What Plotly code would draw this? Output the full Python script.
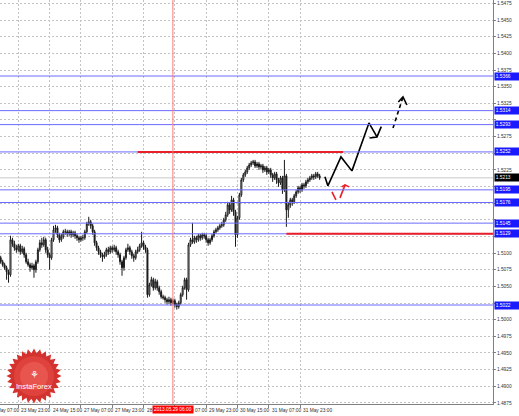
import math
import plotly.graph_objects as go

# ---------------- data (H1 bars) ----------------
bar_index = list(range(7, 171))  # hourly bars, 0 = 23 May 07:00

open_ = [
    1.50930, 1.50870, 1.50825, 1.50780, 1.50720, 1.50675, 1.51200, 1.51140, 1.51080, 1.51050,
    1.51110, 1.51020, 1.51065, 1.50975, 1.50870, 1.50825, 1.50780, 1.50810, 1.50750, 1.50870,
    1.51050, 1.51155, 1.51125, 1.51200, 1.51050, 1.50975, 1.50930, 1.51200, 1.51350, 1.51380,
    1.51275, 1.51200, 1.51245, 1.51320, 1.51320, 1.51290, 1.51320, 1.51275, 1.51305, 1.51260,
    1.51230, 1.51200, 1.51230, 1.51230, 1.51320, 1.51440, 1.51470, 1.51410, 1.51320, 1.51155,
    1.51080, 1.51020, 1.50975, 1.50945, 1.50975, 1.51050, 1.51020, 1.51080, 1.51050, 1.51080,
    1.51020, 1.50975, 1.50870, 1.50780, 1.50930, 1.51050, 1.51080, 1.51020, 1.50960, 1.50930,
    1.51020, 1.51050, 1.51110, 1.51155, 1.51095, 1.51050, 1.50375, 1.50525, 1.50600, 1.50480,
    1.50570, 1.50480, 1.50420, 1.50345, 1.50330, 1.50300, 1.50270, 1.50300, 1.50255, 1.50285,
    1.50225, 1.50195, 1.50255, 1.50375, 1.50480, 1.50600, 1.50450, 1.51125, 1.51200, 1.51170,
    1.51230, 1.51200, 1.51260, 1.51230, 1.51275, 1.51260, 1.51200, 1.51155, 1.51200, 1.51260,
    1.51320, 1.51350, 1.51380, 1.51410, 1.51425, 1.51500, 1.51575, 1.51725, 1.51650, 1.51800,
    1.51620, 1.51275, 1.51530, 1.51875, 1.52100, 1.52175, 1.52220, 1.52280, 1.52325, 1.52355,
    1.52370, 1.52310, 1.52340, 1.52295, 1.52310, 1.52250, 1.52280, 1.52220, 1.52250, 1.52175,
    1.52130, 1.52190, 1.52100, 1.52055, 1.52130, 1.51950, 1.52160, 1.51650, 1.51725, 1.51800,
    1.51770, 1.51860, 1.51920, 1.51980, 1.51950, 1.52025, 1.52010, 1.52070, 1.52100, 1.52130,
    1.52160, 1.52145, 1.52190, 1.52160,
]
high = [
    1.50960, 1.50900, 1.50855, 1.50810, 1.50750, 1.51260, 1.51230, 1.51185, 1.51125, 1.51140,
    1.51140, 1.51110, 1.51095, 1.51005, 1.50915, 1.50855, 1.50855, 1.50840, 1.50900, 1.51080,
    1.51200, 1.51230, 1.51245, 1.51230, 1.51095, 1.51005, 1.51230, 1.51410, 1.51425, 1.51410,
    1.51305, 1.51290, 1.51350, 1.51365, 1.51350, 1.51350, 1.51350, 1.51335, 1.51335, 1.51290,
    1.51260, 1.51260, 1.51275, 1.51350, 1.51470, 1.51545, 1.51500, 1.51440, 1.51350, 1.51185,
    1.51110, 1.51050, 1.51005, 1.51020, 1.51080, 1.51095, 1.51110, 1.51110, 1.51125, 1.51110,
    1.51050, 1.51005, 1.50900, 1.50960, 1.51080, 1.51140, 1.51110, 1.51050, 1.50990, 1.51050,
    1.51095, 1.51140, 1.51320, 1.51185, 1.51125, 1.51080, 1.50555, 1.50645, 1.50630, 1.50615,
    1.50600, 1.50510, 1.50450, 1.50375, 1.50360, 1.50330, 1.50345, 1.50330, 1.50315, 1.50315,
    1.50255, 1.50285, 1.50405, 1.50510, 1.50630, 1.50630, 1.51155, 1.51230, 1.51455, 1.51260,
    1.51260, 1.51290, 1.51290, 1.51305, 1.51305, 1.51290, 1.51230, 1.51230, 1.51290, 1.51350,
    1.51380, 1.51410, 1.51440, 1.51470, 1.51530, 1.51620, 1.51770, 1.51755, 1.51860, 1.51830,
    1.51650, 1.51560, 1.51905, 1.52130, 1.52205, 1.52250, 1.52310, 1.52355, 1.52385, 1.52400,
    1.52400, 1.52370, 1.52370, 1.52340, 1.52340, 1.52310, 1.52310, 1.52280, 1.52280, 1.52205,
    1.52220, 1.52220, 1.52130, 1.52160, 1.52160, 1.52400, 1.52190, 1.51770, 1.51830, 1.51830,
    1.51890, 1.51950, 1.52010, 1.52010, 1.52055, 1.52055, 1.52100, 1.52130, 1.52160, 1.52190,
    1.52190, 1.52220, 1.52220, 1.52190,
]
low = [
    1.50840, 1.50795, 1.50750, 1.50600, 1.50555, 1.50645, 1.51095, 1.51035, 1.51005, 1.51020,
    1.50975, 1.50990, 1.50930, 1.50840, 1.50795, 1.50720, 1.50750, 1.50630, 1.50705, 1.50840,
    1.51020, 1.51080, 1.51095, 1.51005, 1.50930, 1.50750, 1.50900, 1.51170, 1.51305, 1.51230,
    1.51155, 1.51170, 1.51215, 1.51275, 1.51245, 1.51260, 1.51230, 1.51245, 1.51215, 1.51185,
    1.51155, 1.51170, 1.51185, 1.51200, 1.51290, 1.51410, 1.51365, 1.51275, 1.51110, 1.51035,
    1.50975, 1.50930, 1.50870, 1.50915, 1.50945, 1.50975, 1.50990, 1.51005, 1.51020, 1.50975,
    1.50930, 1.50825, 1.50660, 1.50735, 1.50900, 1.51020, 1.50975, 1.50915, 1.50870, 1.50900,
    1.50990, 1.51020, 1.51080, 1.51050, 1.51005, 1.50330, 1.50345, 1.50495, 1.50435, 1.50450,
    1.50435, 1.50375, 1.50315, 1.50300, 1.50255, 1.50225, 1.50240, 1.50210, 1.50225, 1.50180,
    1.50150, 1.50165, 1.50225, 1.50345, 1.50450, 1.50300, 1.50420, 1.51095, 1.51140, 1.51140,
    1.51155, 1.51170, 1.51185, 1.51200, 1.51215, 1.51155, 1.51110, 1.51125, 1.51170, 1.51230,
    1.51290, 1.51320, 1.51350, 1.51380, 1.51395, 1.51470, 1.51545, 1.51590, 1.51620, 1.51560,
    1.51095, 1.51230, 1.51500, 1.51845, 1.52070, 1.52145, 1.52190, 1.52250, 1.52295, 1.52325,
    1.52280, 1.52280, 1.52250, 1.52265, 1.52205, 1.52220, 1.52175, 1.52190, 1.52130, 1.52070,
    1.52100, 1.52040, 1.51995, 1.52025, 1.51890, 1.51920, 1.51395, 1.51530, 1.51680, 1.51710,
    1.51740, 1.51830, 1.51890, 1.51905, 1.51920, 1.51965, 1.51980, 1.52040, 1.52070, 1.52100,
    1.52100, 1.52115, 1.52130, 1.52100,
]
close = [
    1.50870, 1.50825, 1.50780, 1.50720, 1.50675, 1.51200, 1.51140, 1.51080, 1.51050, 1.51110,
    1.51020, 1.51065, 1.50975, 1.50870, 1.50825, 1.50780, 1.50810, 1.50750, 1.50870, 1.51050,
    1.51155, 1.51125, 1.51200, 1.51050, 1.50975, 1.50930, 1.51200, 1.51350, 1.51380, 1.51275,
    1.51200, 1.51245, 1.51320, 1.51320, 1.51290, 1.51320, 1.51275, 1.51305, 1.51260, 1.51230,
    1.51200, 1.51230, 1.51230, 1.51320, 1.51440, 1.51470, 1.51410, 1.51320, 1.51155, 1.51080,
    1.51020, 1.50975, 1.50945, 1.50975, 1.51050, 1.51020, 1.51080, 1.51050, 1.51080, 1.51020,
    1.50975, 1.50870, 1.50780, 1.50930, 1.51050, 1.51080, 1.51020, 1.50960, 1.50930, 1.51020,
    1.51050, 1.51110, 1.51155, 1.51095, 1.51050, 1.50375, 1.50525, 1.50600, 1.50480, 1.50570,
    1.50480, 1.50420, 1.50345, 1.50330, 1.50300, 1.50270, 1.50300, 1.50255, 1.50285, 1.50225,
    1.50195, 1.50255, 1.50375, 1.50480, 1.50600, 1.50450, 1.51125, 1.51200, 1.51170, 1.51230,
    1.51200, 1.51260, 1.51230, 1.51275, 1.51260, 1.51200, 1.51155, 1.51200, 1.51260, 1.51320,
    1.51350, 1.51380, 1.51410, 1.51425, 1.51500, 1.51575, 1.51725, 1.51650, 1.51800, 1.51620,
    1.51275, 1.51530, 1.51875, 1.52100, 1.52175, 1.52220, 1.52280, 1.52325, 1.52355, 1.52370,
    1.52310, 1.52340, 1.52295, 1.52310, 1.52250, 1.52280, 1.52220, 1.52250, 1.52175, 1.52130,
    1.52190, 1.52100, 1.52055, 1.52130, 1.51950, 1.52160, 1.51650, 1.51725, 1.51800, 1.51770,
    1.51860, 1.51920, 1.51980, 1.51950, 1.52025, 1.52010, 1.52070, 1.52100, 1.52130, 1.52160,
    1.52145, 1.52190, 1.52160, 1.52130,
]

tick_index = [0, 16, 32, 48, 64, 80, 96, 112, 128, 144, 160]
tick_text = ["23 May 07:00", "23 May 23:00", "24 May 15:00", "27 May 07:00",
             "27 May 23:00", "28 May 15:00", "29 May 07:00", "29 May 23:00",
             "30 May 15:00", "31 May 07:00", "31 May 23:00"]

price_grid = [1.4875, 1.4900, 1.4925, 1.4950, 1.4975, 1.5000, 1.5025, 1.5050,
              1.5075, 1.5100, 1.5125, 1.5150, 1.5175, 1.5200, 1.5225, 1.5250,
              1.5275, 1.5300, 1.5325, 1.5350, 1.5375, 1.5400, 1.5425, 1.5450, 1.5475]

blue_levels = [1.5366, 1.5314, 1.5293, 1.5252, 1.5195, 1.5176, 1.5145, 1.5129, 1.5022]
red_levels = [1.5252, 1.5129]
red_from_bar = [77, 153]
red_to_bar = [182, 259]

marker_bar = 95
marker_text = "2013.05.29 06:00"

# hand-drawn forecast paths (bar index, price)
solid_path_x = [172.7, 174.2, 180.9, 186.5, 195.2, 199.3]
solid_path_y = [1.52145, 1.52010, 1.52445, 1.52235, 1.52955, 1.52745]
solid_head_x = [195.5, 199.3, 201.5]
solid_head_y = [1.52730, 1.52745, 1.52900]
dash_path_x = [207.5, 212.6]
dash_path_y = [1.52880, 1.53345]
dash_head_x = [210.2, 212.6, 214.6]
dash_head_y = [1.53270, 1.53345, 1.53225]
red1_x = [176.3, 178.3]
red1_y = [1.51920, 1.51800]
red2_x = [180.4, 183.0]
red2_y = [1.51830, 1.52025]
red_head_x = [181.3, 183.0, 185.0]
red_head_y = [1.51995, 1.52025, 1.51995]

# ---------------- figure ----------------
x_range = [6.64, 258.6]
y_range = [1.48733, 1.54802]
PLOT_W, PLOT_H = 493, 404

fig = go.Figure()

fig.add_trace(go.Candlestick(
    x=bar_index, open=open_, high=high, low=low, close=close,
    increasing=dict(line=dict(color="#1a1a1a", width=1), fillcolor="#ffffff"),
    decreasing=dict(line=dict(color="#1a1a1a", width=1), fillcolor="#1a1a1a"),
    whiskerwidth=0, hoverinfo="skip", showlegend=False,
))

def add_path(xs, ys, color, dash="solid", width=1.6):
    fig.add_trace(go.Scatter(x=xs, y=ys, mode="lines",
                             line=dict(color=color, width=width, dash=dash),
                             hoverinfo="skip", showlegend=False))

add_path(solid_path_x, solid_path_y, "#000000")
add_path(solid_head_x, solid_head_y, "#000000")
add_path(dash_path_x, dash_path_y, "#000000", dash="4px,3px")
add_path(dash_head_x, dash_head_y, "#000000")
add_path(red1_x, red1_y, "#e8202a")
add_path(red2_x, red2_y, "#e8202a")
add_path(red_head_x, red_head_y, "#e8202a")

shapes = []
# bid line
shapes.append(dict(type="line", xref="paper", x0=0, x1=1, yref="y",
                   y0=close[-1], y1=close[-1], line=dict(color="#c8c8c8", width=1),
                   layer="below"))
for lv in blue_levels:
    shapes.append(dict(type="line", xref="paper", x0=0, x1=1, yref="y", y0=lv, y1=lv,
                       line=dict(color="#6b6bff", width=1)))
for lv, a, b in zip(red_levels, red_from_bar, red_to_bar):
    shapes.append(dict(type="line", xref="x", x0=a, x1=b, yref="y", y0=lv, y1=lv,
                       line=dict(color="#e8202a", width=2)))
shapes.append(dict(type="line", xref="x", x0=marker_bar, x1=marker_bar, yref="paper",
                   y0=0, y1=1, line=dict(color="#ff7a7a", width=1)))

# InstaForex logo (decoration) in pixel-based paper coords
cx, cy, r_out, r_in, n = 34, 376, 27.5, 23, 28
pts = []
for k in range(2 * n):
    r = r_out if k % 2 == 0 else r_in
    a = math.pi * k / n
    px = cx + r * math.cos(a)
    py = cy + r * math.sin(a)
    pts.append((px / PLOT_W, (PLOT_H - py) / PLOT_H))
path = "M " + " L ".join(f"{x:.5f},{y:.5f}" for x, y in pts) + " Z"
shapes.append(dict(type="path", xref="paper", yref="paper", path=path,
                   fillcolor="#d3322e", line=dict(width=0)))
for rr, col in ((20, "#df423c"), (14, "#e8554e")):
    shapes.append(dict(type="circle", xref="paper", yref="paper",
                       x0=(cx - rr) / PLOT_W, x1=(cx + rr) / PLOT_W,
                       y0=(PLOT_H - cy - rr) / PLOT_H, y1=(PLOT_H - cy + rr) / PLOT_H,
                       fillcolor=col, line=dict(width=0)))

annotations = []
axis_font = dict(family="Liberation Sans", size=4.8, color="#303030")
date_font = dict(family="Liberation Sans", size=4.8, color="#303030")
# x labels, left-aligned at the tick
for ti, tt in zip(tick_index, tick_text):
    annotations.append(dict(text=tt, xref="paper", yref="paper",
                            x=(ti - x_range[0]) / (x_range[1] - x_range[0]), y=0,
                            xanchor="left", yanchor="top", yshift=-1.5, xshift=1,
                            showarrow=False, font=date_font))
annotations.append(dict(text=marker_text, xref="x", yref="paper", x=marker_bar, y=0,
                        xanchor="center", yanchor="top", yshift=-1, showarrow=False,
                        bgcolor="#ff0000", borderpad=1,
                        font=dict(family="Liberation Sans", size=4.8, color="#ffffff")))
highlight = blue_levels + [close[-1]]
for lv in blue_levels:
    annotations.append(dict(text=f"{lv:.4f}", xref="paper", yref="y", x=1, y=lv,
                            xanchor="left", yanchor="middle", xshift=1, showarrow=False,
                            bgcolor="#1a1aff", borderpad=0.8, width=23, align="left",
                            font=dict(family="Liberation Sans", size=4.8, color="#ffffff")))
annotations.append(dict(text=f"{close[-1]:.4f}", xref="paper", yref="y", x=1, y=close[-1],
                        xanchor="left", yanchor="middle", xshift=1, showarrow=False,
                        bgcolor="#000000", borderpad=0.8, width=23, align="left",
                        font=dict(family="Liberation Sans", size=4.8, color="#ffffff")))
annotations.append(dict(text="InstaForex", xref="paper", yref="paper",
                        x=cx / PLOT_W, y=(PLOT_H - cy - 10) / PLOT_H, showarrow=False,
                        xanchor="center", yanchor="middle",
                        font=dict(family="Liberation Sans", size=7.6, color="#ffffff")))
annotations.append(dict(text="⚘", xref="paper", yref="paper",
                        x=cx / PLOT_W, y=(PLOT_H - cy + 2) / PLOT_H, showarrow=False,
                        xanchor="center", yanchor="middle",
                        font=dict(family="DejaVu Sans", size=10, color="#ffffff")))

# grid labels that sit under a highlighted price box are hidden, as in the terminal
grid_text = []
for v in price_grid:
    covered = any(abs(v - h) < 0.00075 for h in highlight)
    grid_text.append("" if covered else f"{v:.4f}")

fig.update_layout(
    width=519, height=416,
    margin=dict(l=0, r=26, t=0, b=12, pad=0),
    paper_bgcolor="#ffffff", plot_bgcolor="#ffffff",
    showlegend=False,
    shapes=shapes, annotations=annotations,
    xaxis=dict(range=x_range, tickvals=tick_index, showticklabels=False,
               ticks="outside", ticklen=3, tickcolor="#808080",
               showgrid=True, gridcolor="#c4c4c4", griddash="2px,2px", gridwidth=1,
               zeroline=False, showline=True, linecolor="#808080", linewidth=1,
               rangeslider=dict(visible=False), fixedrange=True),
    yaxis=dict(range=y_range, side="right", tickvals=price_grid,
               ticktext=grid_text,
               tickfont=axis_font, ticks="outside", ticklen=2, tickcolor="#808080",
               showgrid=True, gridcolor="#c4c4c4", griddash="2px,2px", gridwidth=1,
               zeroline=False, showline=True, linecolor="#808080", linewidth=1,
               fixedrange=True),
)

fig.write_html("out.html", config=dict(displayModeBar=False, staticPlot=True),
               post_script="document.body.style.margin='0';document.body.style.overflow='hidden';")
